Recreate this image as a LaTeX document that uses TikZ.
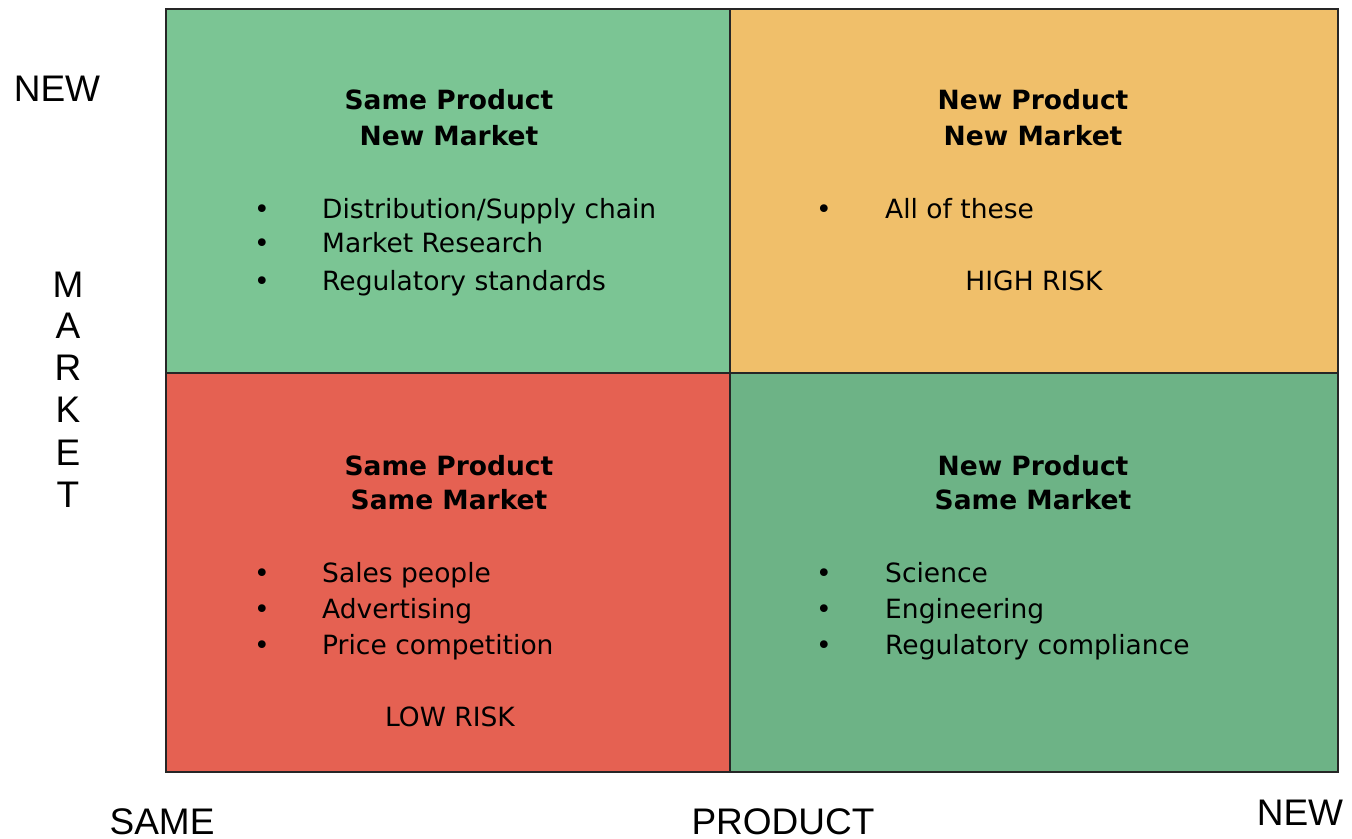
\documentclass[tikz,border=0pt]{standalone}
\usepackage{fontspec}
\setmainfont{DejaVu Sans}
\newfontfamily\axisfont{Liberation Sans}
\definecolor{qgreen}{HTML}{7BC594}
\definecolor{qorange}{HTML}{F0BF6A}
\definecolor{qred}{HTML}{E56152}
\definecolor{qdgreen}{HTML}{6DB386}
\tikzset{
  title/.style={anchor=base, inner sep=0pt, font=\fontsize{26.5}{30}\selectfont\bfseries},
  item/.style={anchor=base west, inner sep=0pt, font=\fontsize{26.5}{30}\selectfont},
  dot/.style={anchor=base, inner sep=0pt, font=\fontsize{26.5}{30}\selectfont},
  axis/.style={anchor=base, inner sep=0pt, font=\axisfont\fontsize{37}{40}\selectfont},
}
\begin{document}
\begin{tikzpicture}[x=1pt,y=-1pt]
\useasboundingbox (0,0) rectangle (1352,838);
% quadrants
\fill[qgreen]  (166,9)   rectangle (730,373);
\fill[qorange] (730,9)   rectangle (1338,373);
\fill[qred]    (166,373) rectangle (730,772);
\fill[qdgreen] (730,373) rectangle (1338,772);
\draw[line width=2.5pt, black!85] (166,9) rectangle (1338,772);
\draw[line width=2.5pt, black!85] (730,9) -- (730,772) (166,373) -- (1338,373);

% top left
\node[title] (tl1) at (449,109) {Same Product};
\node[title] (tl2) at (449,145) {New Market};
\node[dot] (tlb1) at (262,218) {•}; \node[item] (tli1) at (322,218) {Distribution/Supply chain};
\node[dot] (tlb2) at (262,252) {•}; \node[item] (tli2) at (322,252) {Market Research};
\node[dot] (tlb3) at (262,290) {•}; \node[item] (tli3) at (322,290) {Regulatory standards};

% top right
\node[title] (tr1) at (1033,109) {New Product};
\node[title] (tr2) at (1033,145) {New Market};
\node[dot] (trb1) at (824,218) {•}; \node[item] (tri1) at (885,218) {All of these};
\node[dot] (trr) at (1034,290) {HIGH RISK};

% bottom left
\node[title] (bl1) at (449,475) {Same Product};
\node[title] (bl2) at (449,509) {Same Market};
\node[dot] (blb1) at (262,582) {•}; \node[item] (bli1) at (322,582) {Sales people};
\node[dot] (blb2) at (262,618) {•}; \node[item] (bli2) at (322,618) {Advertising};
\node[dot] (blb3) at (262,654) {•}; \node[item] (bli3) at (322,654) {Price competition};
\node[dot] (blr) at (450,726) {LOW RISK};

% bottom right
\node[title] (br1) at (1033,475) {New Product};
\node[title] (br2) at (1033,509) {Same Market};
\node[dot] (brb1) at (824,582) {•}; \node[item] (bri1) at (885,582) {Science};
\node[dot] (brb2) at (824,618) {•}; \node[item] (bri2) at (885,618) {Engineering};
\node[dot] (brb3) at (824,654) {•}; \node[item] (bri3) at (885,654) {Regulatory compliance};

% axis labels
\node[axis] (ynew) at (57,101) {NEW};
\node[axis] (ym) at (68,297) {M};
\node[axis] (ya) at (68,338) {A};
\node[axis] (yr) at (68,380) {R};
\node[axis] (yk) at (68,422) {K};
\node[axis] (ye) at (68,465) {E};
\node[axis] (yt) at (68,507) {T};
\node[axis] (xsame) at (162,834) {SAME};
\node[axis] (xprod) at (783,834) {PRODUCT};
\node[axis] (xnew) at (1300,825) {NEW};
\end{tikzpicture}
\end{document}
